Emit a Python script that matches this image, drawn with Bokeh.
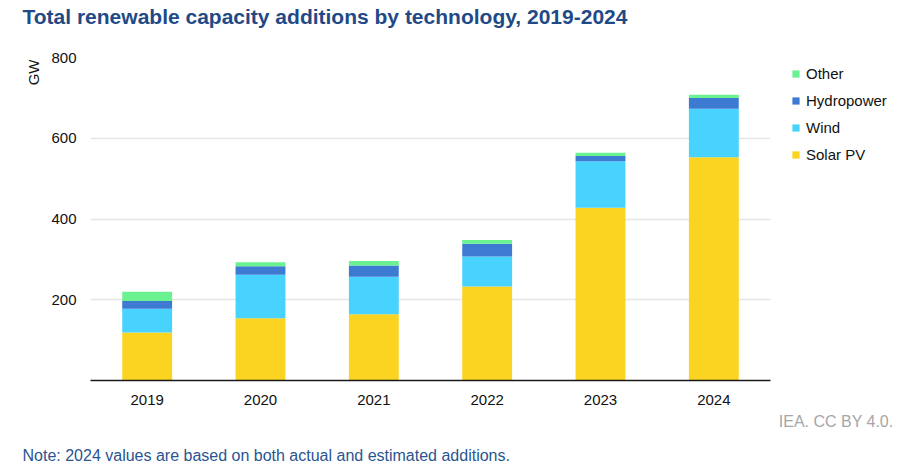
from bokeh.plotting import figure
from bokeh.models import Legend, LegendItem, ColumnDataSource, Range1d, FixedTicker, Title
from bokeh.embed import file_html
from bokeh.resources import INLINE

years = ["2019", "2020", "2021", "2022", "2023", "2024"]
solar_pv = [119, 154, 164, 233, 428, 553]
wind = [59, 108, 93, 74, 115, 120]
hydropower = [19, 21, 28, 32, 13, 27]
other = [23, 10, 11, 9, 8, 8]
series_names = ["Solar PV", "Wind", "Hydropower", "Other"]
series_colors = ["#fbd321", "#48d2fe", "#3d7bd3", "#6af291"]
y_tick_values = [200, 400, 600, 800]

title_text = "Total renewable capacity additions by technology, 2019-2024"
note_text = "Note: 2024 values are based on both actual and estimated additions."
credit_text = "IEA. CC BY 4.0."
unit_text = "GW"

FONT = "Liberation Sans"

source = ColumnDataSource(dict(
    years=years, **{"Solar PV": solar_pv, "Wind": wind, "Hydropower": hydropower, "Other": other}
))

p = figure(x_range=years, y_range=Range1d(0, 800),
           frame_width=680, frame_height=323,
           min_border_left=90, min_border_right=149, min_border_top=57, min_border_bottom=92,
           output_backend="svg", toolbar_location=None)
p.title_location = None

renderers = p.vbar_stack(series_names, x="years", width=0.44, source=source,
                         color=series_colors, line_color=None)

p.outline_line_color = None
p.background_fill_color = "white"
p.border_fill_color = "white"
p.xgrid.grid_line_color = None
p.ygrid.grid_line_color = "#e5e5e5"
p.ygrid.grid_line_width = 1.5
p.ygrid.ticker = FixedTicker(ticks=y_tick_values)

p.yaxis.ticker = FixedTicker(ticks=y_tick_values)
p.yaxis.axis_line_color = None
p.yaxis.major_tick_line_color = None
p.yaxis.minor_tick_line_color = None
p.yaxis.major_label_standoff = 8
p.yaxis.major_label_text_font = FONT
p.yaxis.major_label_text_font_size = "15px"
p.yaxis.major_label_text_color = "#111111"

p.xaxis.axis_line_color = "#1a1a1a"
p.xaxis.axis_line_width = 1.5
p.xaxis.major_tick_line_color = None
p.xaxis.minor_tick_line_color = None
p.xaxis.major_label_standoff = 8
p.xaxis.major_label_text_font = FONT
p.xaxis.major_label_text_font_size = "15px"
p.xaxis.major_label_text_color = "#111111"
p.x_range.range_padding = 0

items = [LegendItem(label=n, renderers=[r]) for n, r in zip(series_names, renderers)][::-1]
legend = Legend(items=items, location=(21, 216), orientation="vertical",
                glyph_width=9, glyph_height=9, label_standoff=6,
                label_text_font=FONT, label_text_font_size="15px", label_text_color="#111111",
                label_height=20, spacing=7, padding=0, margin=0,
                border_line_color=None, background_fill_alpha=0)
p.add_layout(legend, "right")

# above: spacer (next to the frame), then the main title
p.add_layout(Title(text=" ", text_font_size="1px", standoff=25), "above")
p.add_layout(Title(text=title_text, align="left", offset=-68, standoff=4, text_font=FONT,
                   text_font_size="21px", text_font_style="bold", text_color="#1f4a87"), "above")

p.add_layout(Title(text=unit_text, align="right", offset=2, standoff=13, text_font=FONT,
                   text_font_size="15px", text_font_style="normal", text_color="#111111"), "left")

# below: x axis, credit, spacer, note
p.add_layout(Title(text=credit_text, align="right", offset=-123, standoff=7, text_font=FONT,
                   text_font_size="16px", text_font_style="normal", text_color="#a6a6a6"), "below")
p.add_layout(Title(text=" ", text_font_size="1px", standoff=6), "below")
p.add_layout(Title(text=note_text, align="left", offset=-68, standoff=4, text_font=FONT,
                   text_font_size="16px", text_font_style="normal", text_color="#2a5590"), "below")

open("out.html", "w").write(file_html(p, INLINE))
